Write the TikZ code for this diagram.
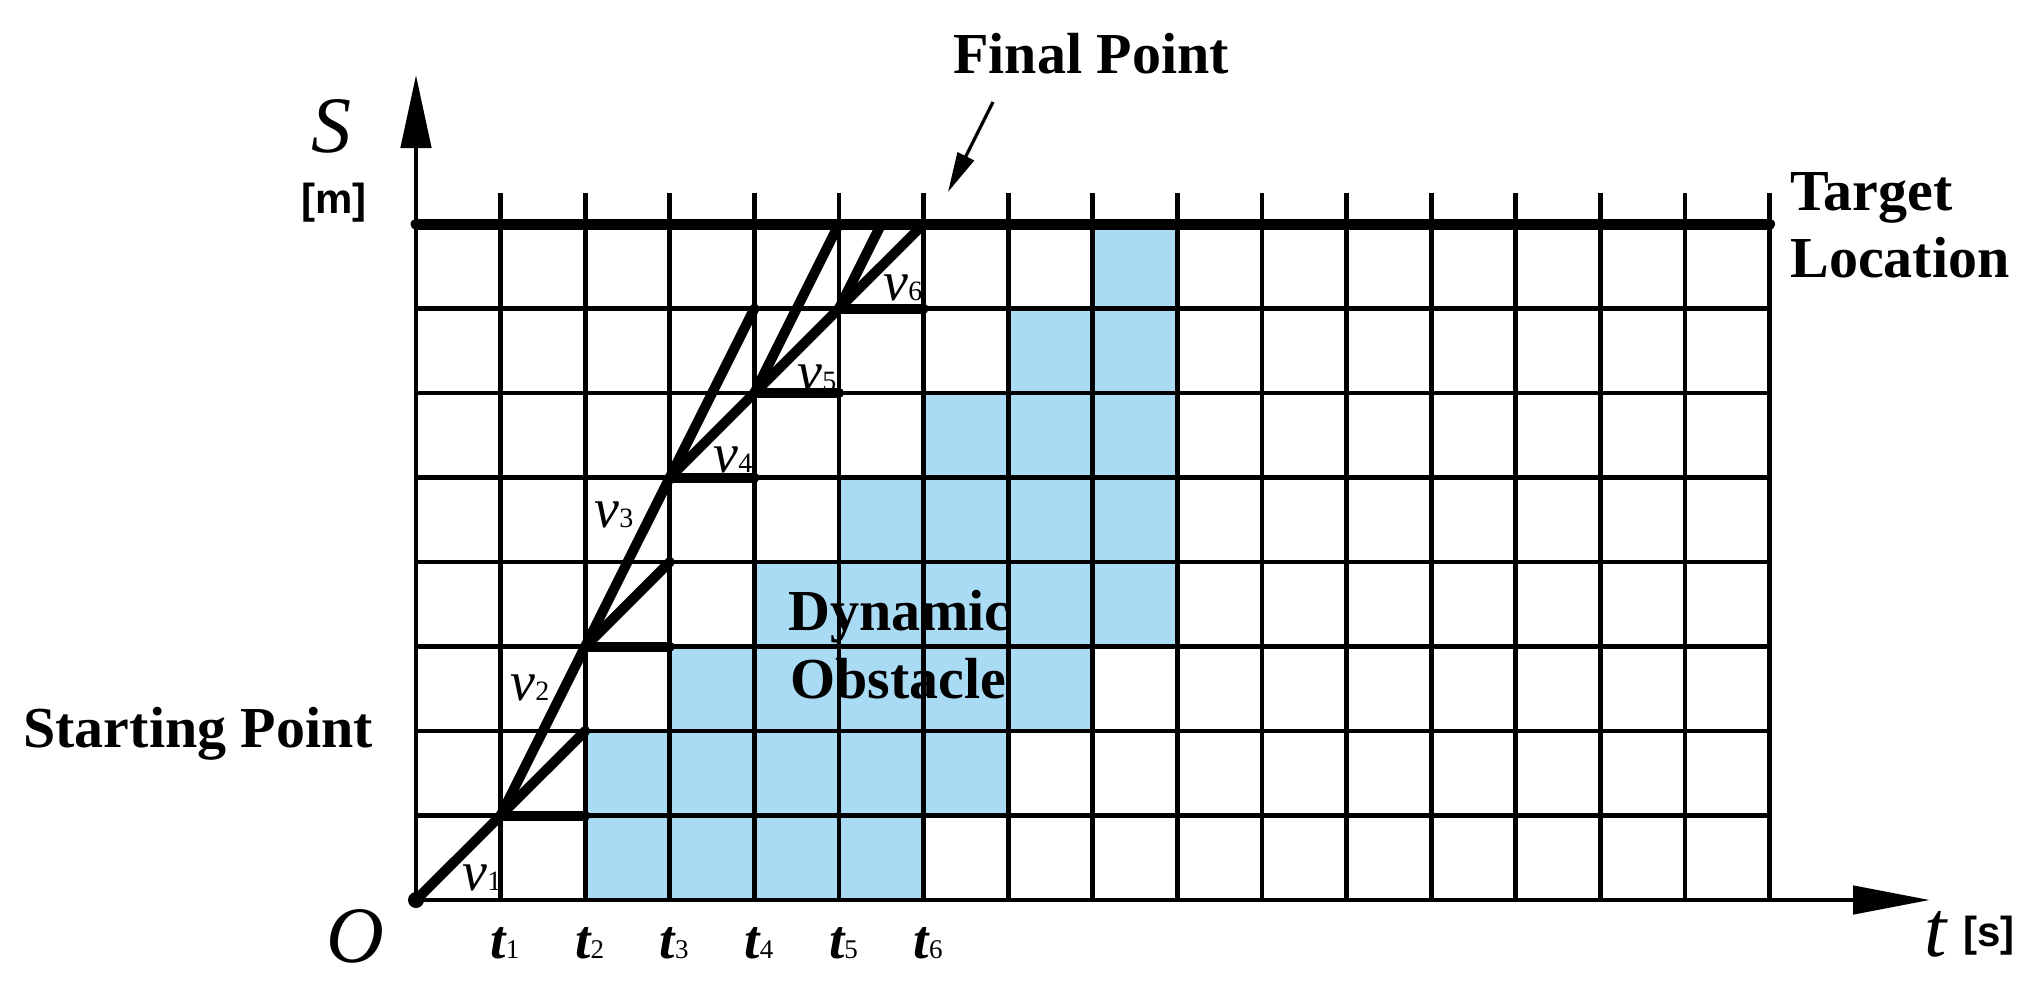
\documentclass[tikz,border=0pt]{standalone}
\usepackage{fontspec}
\setmainfont{Liberation Serif}
\newfontfamily\labsans{Liberation Sans}
\usetikzlibrary{arrows.meta}
\definecolor{obst}{RGB}{170,219,244}
\newcommand\mytlab[1]{{\fontsize{27.5}{28}\selectfont\bfseries\itshape t}{\fontsize{13.5}{14}\selectfont #1}}
\newcommand\myvlab[1]{{\fontsize{28}{28}\selectfont\itshape v}{\fontsize{14}{14}\selectfont #1}}
\begin{document}
\begin{tikzpicture}[x=0.5pt,y=-0.5pt,
  gridline/.style={line width=2.35pt},
  traj/.style={line width=5pt, line cap=round},
  boldlab/.style={font=\fontsize{29}{34}\selectfont\bfseries, inner sep=0pt, anchor=base west},
  axlab/.style={font=\fontsize{40}{40}\selectfont\itshape, inner sep=0pt, anchor=base},
  unitlab/.style={font=\fontsize{21}{21}\selectfont\labsans\bfseries, inner sep=0pt, anchor=base},
  vlab/.style={inner sep=0pt, anchor=base west},
  tlab/.style={inner sep=0pt, anchor=base},
]
\useasboundingbox (0,0) rectangle (2037,1007);
\begin{scope}[shift={(416,900)}, x=42.3pt, y=42.25pt]
  % obstacle cells
  \foreach \c/\a/\b in {2/0/2, 3/0/3, 4/0/4, 5/0/5, 6/1/6, 7/2/7, 8/3/8}
    \fill[obst] (\c,\a) rectangle (\c+1,\b);
  % grid
  \foreach \j in {1,...,7} \draw[gridline] (0,\j) -- (16,\j);
  \foreach \i in {1,...,16} \draw[gridline] (\i,0) -- (\i,8.37);
  % axes
  \coordinate (O) at (0,0);
  \coordinate (ytip) at (0,9.763);
  \coordinate (xtip) at (17.896,0);
  \draw[gridline, -{Triangle[length=36.5pt,width=15pt]}] (O) -- (ytip);
  \draw[gridline, -{Triangle[length=38.5pt,width=14pt]}] (O) -- (xtip);
  % target line
  \coordinate (tl) at (0,8);
  \coordinate (tr) at (16,8);
  \draw[line width=5.5pt, line cap=round] (tl) -- (tr);
  % trajectory nodes
  \coordinate (p11) at (1,1);
  \coordinate (p21) at (2,1);
  \coordinate (p22) at (2,2);
  \coordinate (p23) at (2,3);
  \coordinate (p33) at (3,3);
  \coordinate (p34) at (3,4);
  \coordinate (p35) at (3,5);
  \coordinate (p45) at (4,5);
  \coordinate (p46) at (4,6);
  \coordinate (p47) at (4,7);
  \coordinate (p56) at (5,6);
  \coordinate (p57) at (5,7);
  \coordinate (p58) at (5,8);
  \coordinate (p67) at (6,7);
  \coordinate (p68) at (6,8);
  \coordinate (p558) at (5.5,8);
  \draw[traj] (O) -- (p11);
  \draw[traj] (p11) -- (p21);
  \draw[traj] (p11) -- (p22);
  \draw[traj] (p11) -- (p23);
  \draw[traj] (p23) -- (p33);
  \draw[traj] (p23) -- (p34);
  \draw[traj] (p23) -- (p35);
  \draw[traj] (p35) -- (p45);
  \draw[traj] (p35) -- (p46);
  \draw[traj] (p35) -- (p47);
  \draw[traj] (p46) -- (p56);
  \draw[traj] (p46) -- (p57);
  \draw[traj] (p46) -- (p58);
  \draw[traj] (p57) -- (p67);
  \draw[traj] (p57) -- (p68);
  \draw[traj] (p57) -- (p558);
  \fill (O) circle[radius=4pt];
\end{scope}
% axis labels
\node[axlab] (S) at (331,152) {S};
\node[unitlab] (m) at (334,213) {[m]};
\node[axlab] (Olab) at (355,962) {O};
\node[axlab] (tax) at (1936,956) {t};
\node[unitlab] (s) at (1989,946) {[s]};
% time labels
\foreach \i in {1,...,6}
  \node[tlab] (t\i) at ({416+84.6*\i+4.5},958) {\mytlab{\i}};
% velocity labels
\node[vlab] (v1) at (462,890) {\myvlab{1}};
\node[vlab] (v2) at (510,700) {\myvlab{2}};
\node[vlab] (v3) at (594,527) {\myvlab{3}};
\node[vlab] (v4) at (713,472) {\myvlab{4}};
\node[vlab] (v5) at (797,390) {\myvlab{5}};
\node[vlab] (v6) at (883,300) {\myvlab{6}};
% text labels
\node[boldlab] (start) at (23,747) {Starting Point};
\node[boldlab] (final) at (953,73) {Final Point};
\node[boldlab] (target1) at (1790,210) {Target};
\node[boldlab] (target2) at (1790,277) {Location};
\node[boldlab] (dyn1) at (788,630) {Dynamic};
\node[boldlab] (dyn2) at (790,698) {Obstacle};
% final point arrow
\coordinate (fpa) at (993,102);
\coordinate (fpb) at (948,192);
\draw[line width=1.6pt, -{Triangle[length=20pt,width=9pt]}] (fpa) -- (fpb);
\end{tikzpicture}
\end{document}
